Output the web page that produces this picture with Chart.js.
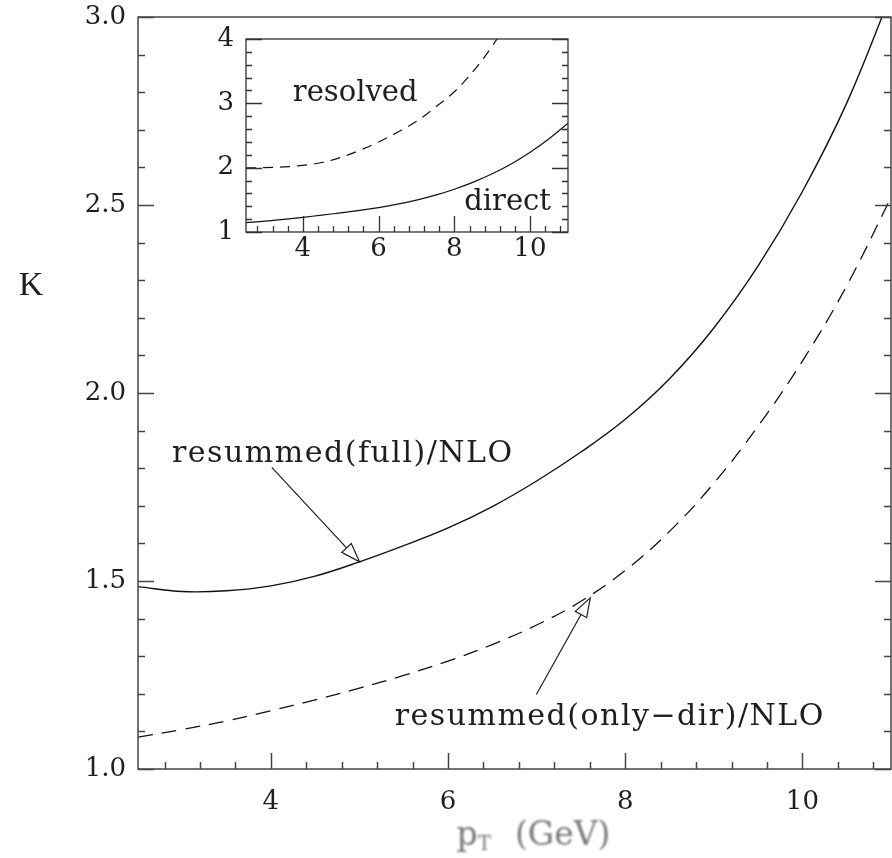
<!DOCTYPE html>
<html>
<head>
<meta charset="utf-8">
<script src="https://cdn.jsdelivr.net/npm/chart.js@4/dist/chart.umd.min.js"></script>
<style>
  html, body { margin: 0; padding: 0; background: #fff; }
  #wrap { position: relative; width: 892px; height: 858px; }
  #main { position: absolute; left: 0; top: 0; }
  #inset { position: absolute; left: 180px; top: 20px; }
</style>
</head>
<body>
<div id="wrap">
  <canvas id="main" width="892" height="858"></canvas>
  <canvas id="inset" width="400" height="250"></canvas>
</div>
<script>
// transverse momentum grid (GeV)
const pT = [2.5, 3.0, 3.5, 4.0, 4.5, 5.0, 5.5, 6.0, 6.5, 7.0, 7.5, 8.0, 8.5, 9.0, 9.5, 10.0, 10.5, 11.0];

// K factors, main panel
const kFull    = [1.485, 1.472, 1.474, 1.487, 1.513, 1.551, 1.594, 1.641, 1.698, 1.766, 1.843, 1.930, 2.038, 2.173, 2.338, 2.536, 2.771, 3.060];
const kOnlyDir = [1.085, 1.105, 1.128, 1.155, 1.184, 1.215, 1.249, 1.287, 1.331, 1.383, 1.446, 1.528, 1.632, 1.760, 1.912, 2.085, 2.285, 2.520];

// K factors, inset panel
const kDirect   = [1.146, 1.168, 1.196, 1.228, 1.262, 1.298, 1.337, 1.380, 1.432, 1.495, 1.572, 1.665, 1.775, 1.905, 2.058, 2.240, 2.450, 2.690];
const kResolved = [1.997, 2.000, 2.012, 2.035, 2.080, 2.160, 2.270, 2.400, 2.550, 2.720, 2.940, 3.180, 3.500, 3.890, 4.360, 4.950, 5.650, 6.500];

// tick labels
const mainXTicks  = [4, 6, 8, 10];
const mainYTicks  = [1.0, 1.5, 2.0, 2.5, 3.0];
const insetXTicks = [4, 6, 8, 10];
const insetYTicks = [1, 2, 3, 4];

const SERIF = '"DejaVu Serif", "Liberation Serif", serif';
const INK = '#1e1e1e';

const toXY = (xs, ys) => xs.map((x, i) => ({ x, y: ys[i] }));

// Frame around the plot area with inward ticks on the bottom, left and right edges
const frameTicks = {
  id: 'frameTicks',
  afterDatasetsDraw(chart, args, o) {
    const { ctx, chartArea: a } = chart;
    const xs = chart.scales.x, ys = chart.scales.y;
    ctx.save();
    ctx.strokeStyle = o.color;
    ctx.lineWidth = o.width;
    ctx.strokeRect(a.left, a.top, a.right - a.left, a.bottom - a.top);
    ctx.beginPath();
    const isMajor = (v, list) => list.some(m => Math.abs(m - v) < 1e-6);
    // x ticks (bottom)
    let x0 = o.xMajor[0];
    while (x0 - o.xMinorStep >= xs.min - 1e-9) x0 -= o.xMinorStep;
    for (let v = x0; v <= xs.max + 1e-9; v += o.xMinorStep) {
      const len = isMajor(v, o.xMajor) ? o.majorLen : o.minorLen;
      const px = Math.round(xs.getPixelForValue(v)) + 0.5;
      ctx.moveTo(px, a.bottom);
      ctx.lineTo(px, a.bottom - len);
    }
    // y ticks (left and right)
    let y0 = o.yMajor[0];
    while (y0 - o.yMinorStep >= ys.min - 1e-9) y0 -= o.yMinorStep;
    for (let v = y0; v <= ys.max + 1e-9; v += o.yMinorStep) {
      const len = isMajor(v, o.yMajor) ? o.majorLen : o.minorLen;
      const py = Math.round(ys.getPixelForValue(v)) + 0.5;
      ctx.moveTo(a.left, py);
      ctx.lineTo(a.left + len, py);
      ctx.moveTo(a.right, py);
      ctx.lineTo(a.right - len, py);
    }
    ctx.stroke();
    ctx.restore();
  }
};

// Text labels and open-headed arrows placed in data coordinates
const notes = {
  id: 'notes',
  afterDatasetsDraw(chart, args, o) {
    const { ctx } = chart;
    const xs = chart.scales.x, ys = chart.scales.y;
    const P = (p) => [xs.getPixelForValue(p[0]), ys.getPixelForValue(p[1])];
    ctx.save();
    ctx.fillStyle = INK;
    ctx.strokeStyle = INK;
    (o.items || []).forEach(it => {
      ctx.font = it.font;
      ctx.letterSpacing = it.spacing || '0px';
      ctx.textBaseline = 'alphabetic';
      ctx.textAlign = 'left';
      const [tx, ty] = P(it.at);
      ctx.fillText(it.text, tx, ty);
      if (it.tail && it.tip) {
        const [ax, ay] = P(it.tail);
        const [bx, by] = P(it.tip);
        const ang = Math.atan2(by - ay, bx - ax);
        const L = 19, W = 6.5;
        const hx = bx - L * Math.cos(ang), hy = by - L * Math.sin(ang);
        ctx.lineWidth = 1.2;
        ctx.beginPath();
        ctx.moveTo(ax, ay);
        ctx.lineTo(hx, hy);
        ctx.stroke();
        ctx.beginPath();
        ctx.moveTo(bx, by);
        ctx.lineTo(hx + W * Math.sin(ang), hy - W * Math.cos(ang));
        ctx.lineTo(hx - W * Math.sin(ang), hy + W * Math.cos(ang));
        ctx.closePath();
        ctx.fillStyle = '#fff';
        ctx.fill();
        ctx.stroke();
        ctx.fillStyle = INK;
      }
    });
    ctx.restore();
  }
};

// Axis titles of the main panel (K, and p_T with subscript)
const axisTitles = {
  id: 'axisTitles',
  afterDraw(chart) {
    const { ctx } = chart;
    ctx.save();
    ctx.fillStyle = INK;
    ctx.font = '34px "Liberation Serif", serif';
    ctx.textAlign = 'center';
    ctx.textBaseline = 'alphabetic';
    ctx.fillText('K', 31, 295);

    ctx.filter = 'blur(0.8px)';
    ctx.fillStyle = '#777';
    ctx.textAlign = 'left';
    const cx = (chart.chartArea.left + chart.chartArea.right) / 2 + 19;
    const big = '33px ' + SERIF, small = '20px ' + SERIF;
    ctx.font = big;
    const wp = ctx.measureText('p').width;
    const wg = ctx.measureText('(GeV)').width;
    ctx.font = small;
    const wt = ctx.measureText('T').width;
    const gap = 24;
    const total = wp + wt + gap + wg;
    let x = cx - total / 2;
    const base = 845;
    ctx.font = big;
    ctx.fillText('p', x, base);
    x += wp;
    ctx.font = small;
    ctx.fillText('T', x, base + 5);
    x += wt + gap;
    ctx.font = big;
    ctx.fillText('(GeV)', x, base);
    ctx.restore();
  }
};

function scaleOpts(min, max, ticks, fmt, pad, fit, fontSize) {
  return {
    type: 'linear',
    min, max,
    grid: { display: false, drawTicks: false },
    border: { display: false },
    afterBuildTicks: s => { s.ticks = ticks.map(v => ({ value: v })); },
    afterFit: s => {
      fit(s);
      s.paddingTop = 0; s.paddingBottom = 0;
      s.paddingLeft = 0; s.paddingRight = 0;
    },
    ticks: {
      autoSkip: false,
      maxRotation: 0,
      padding: pad,
      color: INK,
      font: { family: SERIF, size: fontSize },
      callback: fmt
    }
  };
}

const lineStyle = { borderColor: '#111', pointRadius: 0, fill: false, tension: 0.4 };

new Chart(document.getElementById('main'), {
  type: 'line',
  data: {
    datasets: [
      Object.assign({ label: 'resummed(full)/NLO', data: toXY(pT, kFull), borderWidth: 1.4 }, lineStyle),
      Object.assign({ label: 'resummed(only-dir)/NLO', data: toXY(pT, kOnlyDir), borderWidth: 1.3,
        borderDash: [15, 9] }, lineStyle)
    ]
  },
  options: {
    responsive: false,
    animation: false,
    devicePixelRatio: 1,
    layout: { padding: { top: 17, right: 1, left: 0, bottom: 0 } },
    plugins: {
      legend: { display: false },
      tooltip: { enabled: false },
      frameTicks: { color: '#444', width: 1.5, majorLen: 16, minorLen: 7,
        xMajor: mainXTicks, yMajor: mainYTicks, xMinorStep: 0.4, yMinorStep: 0.1 },
      notes: { items: [
        { text: 'resummed(full)/NLO', at: [2.884, 1.816], font: '30px ' + SERIF, spacing: '1.5px',
          tail: [4.01, 1.802], tip: [5.0, kFull[pT.indexOf(5.0)]] },
        { text: 'resummed(only\u2212dir)/NLO', at: [5.397, 1.118], font: '30px ' + SERIF, spacing: '1.5px',
          tail: [6.997, 1.198], tip: [7.605, 1.455] }
      ] }
    },
    scales: {
      x: scaleOpts(2.5, 11, mainXTicks, v => String(v), 18, s => { s.height = 89; }, 26),
      y: scaleOpts(1.0, 3.0, mainYTicks, v => v.toFixed(1), 12, s => { s.width = 138; }, 26)
    }
  },
  plugins: [frameTicks, notes, axisTitles]
});

new Chart(document.getElementById('inset'), {
  type: 'line',
  data: {
    datasets: [
      Object.assign({ label: 'direct', data: toXY(pT, kDirect), borderWidth: 1.2 }, lineStyle),
      Object.assign({ label: 'resolved', data: toXY(pT, kResolved), borderWidth: 1.2,
        borderDash: [10, 7] }, lineStyle)
    ]
  },
  options: {
    responsive: false,
    animation: false,
    devicePixelRatio: 1,
    layout: { padding: { top: 19, right: 12, left: 0, bottom: 0 } },
    plugins: {
      legend: { display: false },
      tooltip: { enabled: false },
      frameTicks: { color: '#333', width: 1.3, majorLen: 16, minorLen: 6,
        xMajor: insetXTicks, yMajor: insetYTicks, xMinorStep: 0.4, yMinorStep: 0.2 },
      notes: { items: [
        { text: 'resolved', at: [3.735, 3.036], font: '29px ' + SERIF },
        { text: 'direct', at: [8.26, 1.338], font: '29px ' + SERIF }
      ] }
    },
    scales: {
      x: scaleOpts(2.5, 11, insetXTicks, v => String(v), 2, s => { s.height = 38; }, 26),
      y: scaleOpts(1, 4, insetYTicks, v => String(v), 12, s => { s.width = 66; }, 26)
    }
  },
  plugins: [frameTicks, notes]
});
</script>
</body>
</html>
